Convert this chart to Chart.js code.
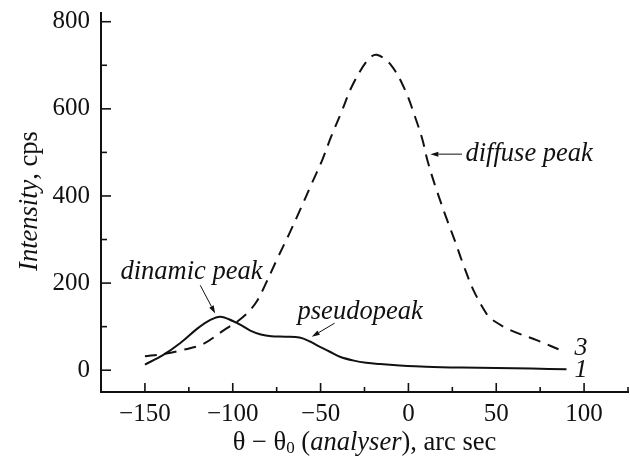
<!DOCTYPE html>
<html>
<head>
<meta charset="utf-8">
<script src="https://cdn.jsdelivr.net/npm/chart.js@4"></script>
<style>
  html,body{margin:0;padding:0;background:#fff;}
  #wrap{width:630px;height:457px;position:relative;}
</style>
</head>
<body>
<div id="wrap"><canvas id="c" width="630" height="457"></canvas></div>
<script>
// Data
const curve1X = [-150,-140,-130,-120,-113,-107,-100,-95,-90,-84,-78,-70,-62,-56,-52,-45,-39,-31,-24,-16,-5,10,30,50,70,90];
const curve1Y = [13,34,62,96,115,123,113,103,91,82,78,77,75,66,57,43,31,22,17,14,11,8,6,5,4,2];
const curve3X = [-150,-140,-128,-117,-105,-97,-91,-86,-82,-75,-68,-62,-55,-49,-44,-38,-32,-23,-18,-10,-2,4,8,11,16,22,27,31,37,45,48,58,73,89];
const curve3Y = [32,37,47,60,92,113,134,160,192,253,312,365,429,483,536,594,653,713,724,701,644,579,529,479,414,345,291,245,184,126,115,92,69,42];
const xTicks = [-150,-100,-50,0,50,100];
const yTicks = [0,200,400,600,800];
const xMinorTicks = [-175,-125,-75,-25,25,75,125];
const yMinorTicks = [100,300,500,700];
const curveLabels = ["1","3"];
const annotations = [
  {text:"dinamic peak", x:-123.5, y:225, ax1:-118.5, ay1:195, ax2:-110, ay2:130},
  {text:"pseudopeak", x:-27.5, y:133, ax1:-42, ay1:108, ax2:-55, ay2:77},
  {text:"diffuse peak", x:32.5, y:496, ax1:30.5, ay1:496, ax2:12.5, ay2:496, left:true}
];

const SERIF = '"Liberation Serif", "Times New Roman", serif';
const fmt = v => (v < 0 ? '\u2212' + Math.abs(v) : String(v));

function arrow(ctx, x1, y1, x2, y2) {
  ctx.save();
  ctx.strokeStyle = '#111'; ctx.fillStyle = '#111'; ctx.lineWidth = 1;
  const ang = Math.atan2(y2 - y1, x2 - x1);
  const hl = 8, hw = 2.5;
  const bx = x2 - hl * Math.cos(ang), by = y2 - hl * Math.sin(ang);
  ctx.beginPath(); ctx.moveTo(x1, y1); ctx.lineTo(bx, by); ctx.stroke();
  ctx.beginPath();
  ctx.moveTo(x2, y2);
  ctx.lineTo(bx + hw * Math.sin(ang), by - hw * Math.cos(ang));
  ctx.lineTo(bx - hw * Math.sin(ang), by + hw * Math.cos(ang));
  ctx.closePath(); ctx.fill();
  ctx.restore();
}

function drawRuns(ctx, runs, cx, cy) {
  let total = 0;
  runs.forEach(r => { ctx.font = r.font; r.w = ctx.measureText(r.t).width; total += r.w; });
  let x = cx - total / 2;
  ctx.textAlign = 'left'; ctx.textBaseline = 'middle';
  runs.forEach(r => { ctx.font = r.font; ctx.fillText(r.t, x, cy + (r.dy || 0)); x += r.w; });
}

const decor = {
  id: 'decor',
  afterDraw(chart) {
    const ctx = chart.ctx, xs = chart.scales.x, ys = chart.scales.y;
    const ca = chart.chartArea;
    ctx.save();
    ctx.strokeStyle = '#111'; ctx.lineWidth = 1.6;
    xTicks.forEach(v => { const p = xs.getPixelForValue(v); ctx.beginPath(); ctx.moveTo(p, ca.bottom); ctx.lineTo(p, ca.bottom - 9); ctx.stroke(); });
    xMinorTicks.forEach(v => { const p = xs.getPixelForValue(v); ctx.beginPath(); ctx.moveTo(p, ca.bottom); ctx.lineTo(p, ca.bottom - 5); ctx.stroke(); });
    yTicks.forEach(v => { const p = ys.getPixelForValue(v); ctx.beginPath(); ctx.moveTo(ca.left, p); ctx.lineTo(ca.left + 10, p); ctx.stroke(); });
    yMinorTicks.forEach(v => { const p = ys.getPixelForValue(v); ctx.beginPath(); ctx.moveTo(ca.left, p); ctx.lineTo(ca.left + 6, p); ctx.stroke(); });

    ctx.fillStyle = '#111';
    const nf = '26.5px ' + SERIF, itf = 'italic 26.5px ' + SERIF, sub = '17px ' + SERIF;
    drawRuns(ctx, [
      {t:'\u03b8 \u2212 \u03b8', font:nf},
      {t:'0', font:sub, dy:6},
      {t:' (', font:nf},
      {t:'analyser', font:itf},
      {t:'), arc sec', font:nf}
    ], (ca.left + ca.right) / 2, 443);
    ctx.save();
    ctx.translate(30, 201);
    ctx.rotate(-Math.PI / 2);
    drawRuns(ctx, [{t:'Intensity', font:itf}, {t:', cps', font:nf}], 0, 0);
    ctx.restore();

    const af = 'italic 26.5px ' + SERIF;
    annotations.forEach(a => {
      ctx.font = af; ctx.textBaseline = 'middle';
      ctx.textAlign = a.left ? 'left' : 'center';
      ctx.fillText(a.text, xs.getPixelForValue(a.x), ys.getPixelForValue(a.y));
      arrow(ctx, xs.getPixelForValue(a.ax1), ys.getPixelForValue(a.ay1), xs.getPixelForValue(a.ax2), ys.getPixelForValue(a.ay2));
    });
    ctx.font = 'italic 26px ' + SERIF; ctx.textAlign = 'left'; ctx.textBaseline = 'middle';
    ctx.fillText(curveLabels[0], xs.getPixelForValue(94.5), ys.getPixelForValue(0));
    ctx.fillText(curveLabels[1], xs.getPixelForValue(94.5), ys.getPixelForValue(51));
    ctx.restore();
  }
};

function build() {
  new Chart(document.getElementById('c'), {
    type: 'line',
    data: {
      datasets: [
        {label:'1', data: curve1X.map((x,i)=>({x, y:curve1Y[i]})), borderColor:'#111', borderWidth:2, pointRadius:0, tension:0.35, fill:false},
        {label:'3', data: curve3X.map((x,i)=>({x, y:curve3Y[i]})), borderColor:'#111', borderWidth:2, borderDash:[12,8], pointRadius:0, tension:0.35, fill:false}
      ]
    },
    options: {
      responsive:false, animation:false, devicePixelRatio:1,
      layout:{padding:{top:13, right:2, left:0, bottom:0}},
      plugins:{legend:{display:false}, tooltip:{enabled:false}},
      scales:{
        x:{type:'linear', min:-175, max:125,
           afterBuildTicks: s => { s.ticks = xTicks.map(v=>({value:v})); },
           afterFit: s => { s.height = 65; s.paddingLeft = 0; s.paddingRight = 0; },
           grid:{display:false, drawTicks:false}, border:{display:true, color:'#111', width:2},
           ticks:{padding:7, color:'#111', font:{family:SERIF, size:25}, callback: v => fmt(v), maxRotation:0, autoSkip:false}},
        y:{type:'linear', min:-50, max:820,
           afterBuildTicks: s => { s.ticks = yTicks.map(v=>({value:v})); },
           afterFit: s => { s.width = 101; s.paddingTop = 0; s.paddingBottom = 0; },
           grid:{display:false, drawTicks:false}, border:{display:true, color:'#111', width:2},
           ticks:{padding:11, color:'#111', font:{family:SERIF, size:25}, callback: v => fmt(v), autoSkip:false}}
      }
    },
    plugins:[decor]
  });
}

Promise.all([
  document.fonts.load('24px "Liberation Serif"'),
  document.fonts.load('italic 24px "Liberation Serif"')
]).then(build, build);
</script>
</body>
</html>
